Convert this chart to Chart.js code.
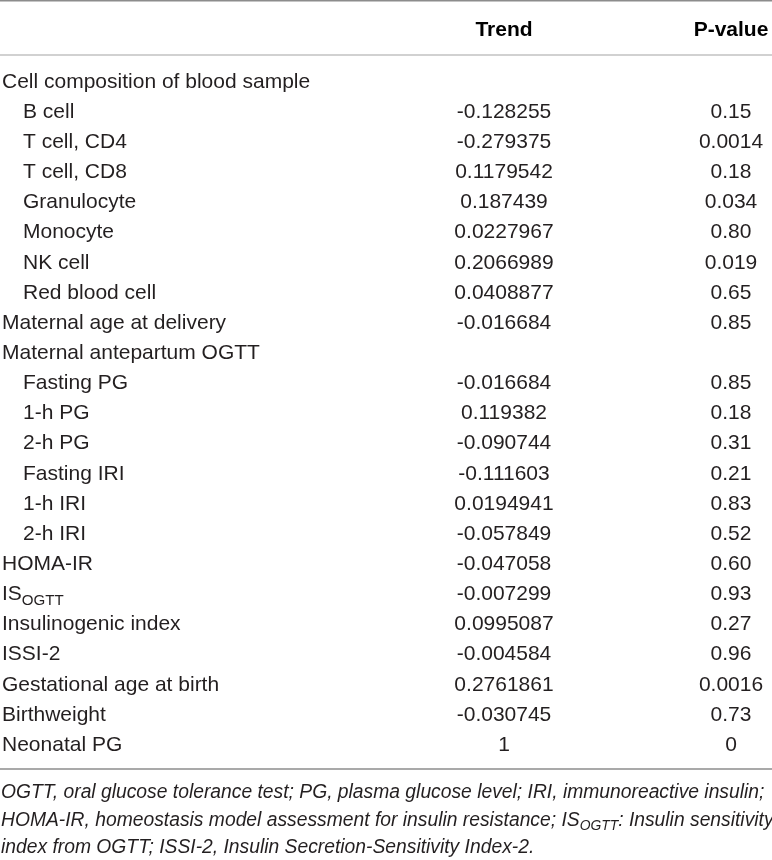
<!DOCTYPE html>
<html>
<head>
<meta charset="utf-8">
<script src="https://cdn.jsdelivr.net/npm/chart.js@4.4.1/dist/chart.umd.min.js"></script>
<style>
  html, body { margin: 0; padding: 0; background: #fff; }
  #wrap { width: 772px; height: 860px; position: relative; }
</style>
</head>
<body>
<div id="wrap"><canvas id="tableChart"></canvas></div>
<script>
// --- table data ---
const columns = ['Trend', 'P-value'];

const rowLabels = [
    'Cell composition of blood sample', 'B cell', 'T cell, CD4', 'T cell, CD8',
    'Granulocyte', 'Monocyte', 'NK cell', 'Red blood cell',
    'Maternal age at delivery', 'Maternal antepartum OGTT',
    'Fasting PG', '1-h PG', '2-h PG', 'Fasting IRI', '1-h IRI', '2-h IRI',
    'HOMA-IR', 'IS_{OGTT}', 'Insulinogenic index', 'ISSI-2',
    'Gestational age at birth', 'Birthweight', 'Neonatal PG'
];

// 1 = sub-row (indented under a group heading)
const indented = [0, 1, 1, 1, 1, 1, 1, 1, 0, 0, 1, 1, 1, 1, 1, 1, 0, 0, 0, 0, 0, 0, 0];

const trendValues = [
    '', '-0.128255', '-0.279375', '0.1179542', '0.187439', '0.0227967', '0.2066989', '0.0408877',
    '-0.016684', '',
    '-0.016684', '0.119382', '-0.090744', '-0.111603', '0.0194941', '-0.057849',
    '-0.047058', '-0.007299', '0.0995087', '-0.004584', '0.2761861', '-0.030745', '1'
];

const pValues = [
    '', '0.15', '0.0014', '0.18', '0.034', '0.80', '0.019', '0.65',
    '0.85', '',
    '0.85', '0.18', '0.31', '0.21', '0.83', '0.52',
    '0.60', '0.93', '0.27', '0.96', '0.0016', '0.73', '0'
];

const footnoteLines = [
    'OGTT, oral glucose tolerance test; PG, plasma glucose level; IRI, immunoreactive insulin;',
    'HOMA-IR, homeostasis model assessment for insulin resistance; IS_{OGTT}: Insulin sensitivity',
    'index from OGTT; ISSI-2, Insulin Secretion-Sensitivity Index-2.'
];

const FONT = "'Liberation Sans', Arial, Helvetica, sans-serif";
const TEXT = '#231f20';

// one point per filled cell; empty cells are left out
function cellPoints(col, values) {
    return rowLabels
        .map((r, i) => ({ x: col, y: r, text: values[i] }))
        .filter(p => p.text !== '');
}

// draws text with "_{...}" parts as subscripts
function drawRich(ctx, text, x, y, size, style) {
    const parts = text.split(/_\{([^}]*)\}/);
    let cx = x;
    parts.forEach((p, k) => {
        if (!p) return;
        const sub = k % 2 === 1;
        const s = sub ? size * 0.72 : size;
        ctx.font = style + ' ' + s + 'px ' + FONT;
        ctx.fillText(p, cx, sub ? y + size * 0.3 : y);
        cx += ctx.measureText(p).width;
    });
}

const tablePlugin = {
    id: 'tableText',
    afterDatasetsDraw(chart) {
        const ctx = chart.ctx;
        const yScale = chart.scales.y;
        const step = yScale.getPixelForValue(1) - yScale.getPixelForValue(0);
        const firstRow = yScale.getPixelForValue(0);
        const lastRow = yScale.getPixelForValue(rowLabels.length - 1);

        ctx.save();
        ctx.fillStyle = TEXT;
        ctx.textBaseline = 'middle';

        // first column: row labels
        ctx.textAlign = 'left';
        rowLabels.forEach((label, i) => {
            drawRich(ctx, label, indented[i] ? 23 : 2, yScale.getPixelForValue(i), 21, '');
        });

        // value cells, placed on the dataset points
        ctx.textAlign = 'center';
        ctx.font = '21px ' + FONT;
        chart.data.datasets.forEach((ds, di) => {
            chart.getDatasetMeta(di).data.forEach((pt, j) => {
                ctx.fillText(ds.data[j].text, pt.x, pt.y);
            });
        });

        // horizontal rules
        const rule = (y, color) => {
            ctx.strokeStyle = color;
            ctx.lineWidth = 1.5;
            ctx.beginPath();
            ctx.moveTo(0, y);
            ctx.lineTo(chart.width, y);
            ctx.stroke();
        };
        rule(0.75, '#8c8c8c');
        rule(firstRow - step * 0.9, '#c2c2c2');
        const bottomRule = lastRow + step * 0.8;
        rule(bottomRule, '#8c8c8c');

        // footnote
        ctx.textAlign = 'left';
        footnoteLines.forEach((line, i) => {
            drawRich(ctx, line, 1, bottomRule + 24 + i * 27.5, 19.3, 'italic');
        });
        ctx.restore();
    }
};

new Chart(document.getElementById('tableChart'), {
    type: 'scatter',
    data: {
        datasets: [
            { label: columns[0], data: cellPoints(columns[0], trendValues), pointRadius: 0 },
            { label: columns[1], data: cellPoints(columns[1], pValues), pointRadius: 0 }
        ]
    },
    options: {
        responsive: true,
        maintainAspectRatio: false,
        animation: false,
        events: [],
        layout: { padding: { left: 504, right: 41, top: 0, bottom: 115 } },
        plugins: { legend: { display: false }, tooltip: { enabled: false } },
        scales: {
            x: {
                type: 'category',
                labels: columns,
                position: 'top',
                offset: false,
                grid: { display: false },
                border: { display: false },
                ticks: {
                    padding: 31,
                    color: '#000',
                    font: { family: FONT, size: 21, weight: 'bold' }
                },
                afterFit(scale) {
                    scale.height = 82;
                    scale.paddingLeft = 0;
                    scale.paddingRight = 0;
                }
            },
            y: {
                type: 'category',
                labels: rowLabels,
                offset: false,
                display: false
            }
        }
    },
    plugins: [tablePlugin]
});
</script>
</body>
</html>
